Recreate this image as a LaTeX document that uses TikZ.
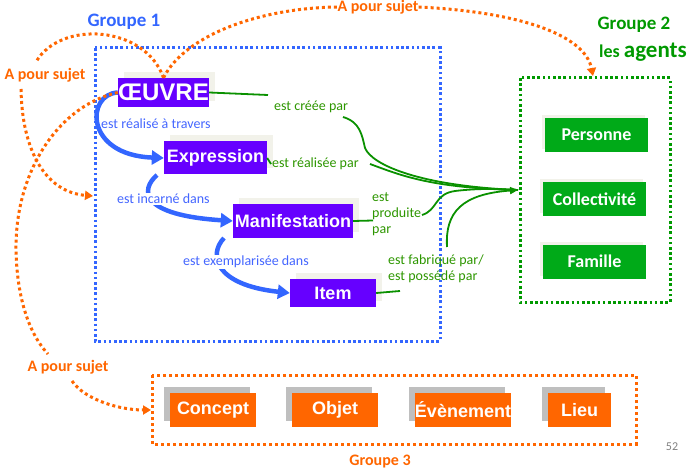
\documentclass[tikz,border=0pt]{standalone}
\usepackage{fontspec}
\setmainfont{Carlito}
\newfontfamily\arialf{Liberation Sans}
\usetikzlibrary{arrows.meta,calc,shadows}
\definecolor{purp}{RGB}{102,0,255}
\definecolor{agreen}{RGB}{0,170,24}
\definecolor{orng}{RGB}{255,102,0}
\definecolor{ablue}{RGB}{51,102,255}
\definecolor{lblue}{RGB}{68,102,255}
\definecolor{dgreen}{RGB}{0,153,0}
\definecolor{cgreen}{RGB}{10,145,0}
\definecolor{lgreen}{RGB}{45,150,0}
\definecolor{pshadow}{RGB}{242,242,234}
\definecolor{gshadow}{RGB}{191,191,191}
\begin{document}
\begin{tikzpicture}[x=1pt,y=-1pt,
  purpbox/.style={fill=purp,text=white,inner sep=0pt,font=\arialf\bfseries\fontsize{18}{20}\selectfont,
    general shadow={fill=pshadow,shadow xshift=6pt,shadow yshift=6pt}},
  agentbox/.style={fill=agreen,text=white,inner sep=0pt,minimum width=103pt,minimum height=34pt,
    font=\bfseries\fontsize{18}{20}\selectfont,
    general shadow={fill=pshadow,shadow xshift=-3pt,shadow yshift=3pt}},
  subjbox/.style={fill=orng,text=white,inner sep=0pt,minimum height=34pt,
    font=\arialf\bfseries\fontsize{18}{20}\selectfont,
    general shadow={fill=gshadow,shadow xshift=-6pt,shadow yshift=6pt}},
  blbl/.style={text=lblue,inner sep=1pt,font=\fontsize{14}{17}\selectfont},
  glbl/.style={text=lgreen,inner sep=1pt,align=left,font=\fontsize{14}{17}\selectfont},
  olbl/.style={text=orng,inner sep=0pt,font=\bfseries\fontsize{16}{18}\selectfont},
  barrow/.style={draw=ablue,solid,line width=4.5pt,-{Triangle[length=12pt,width=14pt]}},
  gline/.style={draw=cgreen,solid,line width=1.8pt},
  garrow/.style={gline,-{Triangle[length=8pt,width=7pt]}},
  odot/.style={draw=orng,line width=3pt,dash pattern=on 3pt off 3pt},
  oarrow/.style={odot,-{Triangle[length=8pt,width=9pt]}},
  bdot/.style={draw=ablue,line width=3pt,dash pattern=on 2.6pt off 2.6pt},
  gdot/.style={draw=dgreen,line width=3pt,dash pattern=on 2.6pt off 2.6pt},
]
\useasboundingbox (0,0) rectangle (696,473);

% group frames
\draw[bdot] (95,48) rectangle (440,341);
\draw[gdot] (520,78) rectangle (670,302);
\draw[odot] (152,375) rectangle (636,444);

% group titles
\node[text=ablue,font=\bfseries\fontsize{19}{21}\selectfont] (g1) at (124,22) {Groupe 1};
\node[text=dgreen,font=\bfseries\fontsize{19}{21}\selectfont] (g2) at (634,25) {Groupe 2};
\node[text=dgreen,font=\bfseries\fontsize{18}{21}\selectfont] (g2b) at (643,52) {les {\fontsize{23}{25}\selectfont agents}};
\node[text=orng,font=\bfseries\fontsize{16}{18}\selectfont] (g3) at (380,462) {Groupe 3};
\node[text=gray,font=\fontsize{12}{14}\selectfont] (pg) at (672,447) {52};

% group 1 entities
\node[purpbox,minimum width=91pt,minimum height=29pt,font=\arialf\bfseries\fontsize{24}{25}\selectfont] (oeuvre) at (163.5,92.5) {ŒUVRE};
\node[purpbox,minimum width=103pt,minimum height=33pt] (expr) at (215.5,158) {Expression};
\node[purpbox,minimum width=120pt,minimum height=34pt] (manif) at (293,221) {Manifestation};
\node[purpbox,minimum width=86pt,minimum height=28pt] (item) at (333,293) {Item};

% group 2 entities
\node[agentbox] (pers) at (596.5,135) {Personne};
\node[agentbox] (coll) at (594.5,199) {Collectivité};
\node[agentbox] (fam) at (594.5,261.5) {Famille};

% group 3 entities
\node[subjbox,minimum width=86pt] (concept) at (213,410) {Concept};
\node[subjbox,minimum width=86pt] (objet) at (335,410) {Objet};
\node[subjbox,minimum width=96pt] (event) at (463,410) {Évènement};
\node[subjbox,minimum width=63pt] (lieu) at (579.5,410) {Lieu};

% blue arrows
\draw[barrow] (oeuvre.west) .. controls (86,94) and (84,155) .. (expr.west);
\draw[barrow] (157,175) .. controls (140,190) and (140,215) .. (manif.west);
\draw[barrow] (224,238) .. controls (208,255) and (215,285) .. (item.west);
\node[blbl,anchor=west] (l1) at (100,124) {est réalisé à travers};
\node[blbl,anchor=west,fill=white] (l2) at (116,199) {est incarné dans};
\node[blbl,anchor=west,fill=white] (l3) at (182,262) {est exemplarisée dans};

% green labels
\node[glbl,anchor=west] (gl1) at (273,107) {est créée par};
\node[glbl,anchor=west] (gl2) at (271,164) {est réalisée par};
\node[glbl,anchor=north west] (gl3) at (371,191) {est\\[-1pt]produite\\[-1pt]par};
\node[glbl,anchor=north west] (gl4) at (387,254) {est fabriqué par/\\[-1pt]est possédé par};

% green connectors
\coordinate (gin) at (518,190);
\coordinate (c1) at (268,95);
\draw[gline] (oeuvre.east) -- (c1);
\draw[gline] (343,117) .. controls (360,122) and (362,135) .. (365,148) .. controls (372,165) and (420,186) .. (gin);
\draw[gline] (expr.east) -- (gl2.west);
\draw[gline] (370,164) .. controls (400,175) and (430,188) .. (gin);
\draw[gline] (manif.east) -- (373,220.5);
\draw[gline] (422,215) .. controls (438,210) and (434,194) .. (455,191) .. controls (480,188) and (500,189) .. (gin);
\draw[gline] (item.east) -- (400,291);
\draw[garrow] (447,247) .. controls (445,212) and (462,194) .. (gin);

% orange "A pour sujet"
\node[olbl] (apsTop) at (378,7) {A pour sujet};
\node[olbl] (apsLeft) at (45,75) {A pour sujet};
\node[olbl] (apsBot) at (68,367) {A pour sujet};
\coordinate (g2top) at (593,76);
\coordinate (g1left) at (93,196);
\coordinate (g3left) at (151,410);
\draw[odot] (oeuvre.north) .. controls (185,35) and (260,8) .. (apsTop.west);
\draw[oarrow] (apsTop.east) .. controls (520,12) and (585,35) .. (g2top);
\draw[odot] (oeuvre.north) .. controls (145,25) and (60,20) .. (36,62);
\draw[oarrow] (21,89) .. controls (22,150) and (45,192) .. (g1left);
\draw[odot] (oeuvre.west) .. controls (60,105) and (15,170) .. (16,250) .. controls (17,300) and (30,335) .. (48,354);
\draw[oarrow] (72,381) .. controls (85,400) and (120,410) .. (g3left);
\end{tikzpicture}
\end{document}
